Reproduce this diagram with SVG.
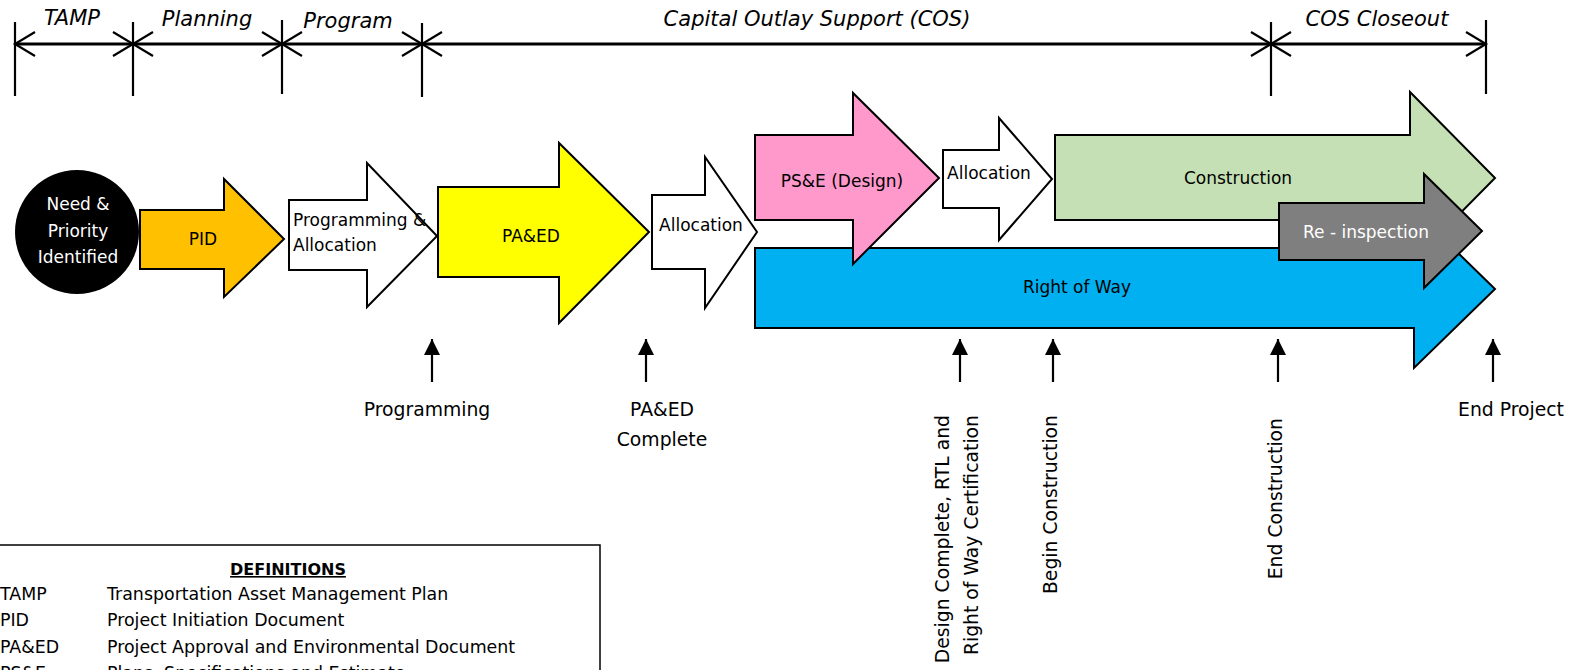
<svg xmlns="http://www.w3.org/2000/svg" width="1573" height="670" viewBox="0 0 1573 670">
<defs>
<style>
text{font-family:"DejaVu Sans","Liberation Sans",sans-serif;fill:#000;}
.lbl{font-size:17px;}
.big{font-size:18.8px;}
.ttl{font-size:21px;font-style:italic;}
.mid{text-anchor:middle;}
.arw{stroke:#000;stroke-width:2;stroke-linejoin:miter;}
.tick{stroke:#000;stroke-width:2.2;fill:none;}
.span{stroke:#000;stroke-width:3;fill:none;marker-start:url(#open);marker-end:url(#open);}
.ms{stroke:#000;stroke-width:2.2;fill:none;marker-end:url(#solid);}
.vt{font-size:18.8px;text-anchor:end;}
.def{font-size:17.4px;}
</style>
<marker id="open" viewBox="-22 -13 24 26" refX="0" refY="0" markerWidth="24" markerHeight="26" markerUnits="userSpaceOnUse" orient="auto-start-reverse" overflow="visible">
<path d="M-20,-12 L0,0 L-20,12" fill="none" stroke="#000" stroke-width="2.2"/>
</marker>
<marker id="solid" viewBox="-16 -8 16 16" refX="0" refY="0" markerWidth="16" markerHeight="16" markerUnits="userSpaceOnUse" orient="auto" overflow="visible">
<path d="M-16,-8 L0,0 L-16,8 Z" fill="#000"/>
</marker>
</defs>
<rect x="0" y="0" width="1573" height="670" fill="#fff"/>

<g id="timeline">
<line class="tick" x1="15" y1="22" x2="15" y2="96"/>
<line class="tick" x1="133" y1="22" x2="133" y2="96"/>
<line class="tick" x1="282" y1="20" x2="282" y2="94"/>
<line class="tick" x1="422" y1="23" x2="422" y2="97"/>
<line class="tick" x1="1271" y1="22" x2="1271" y2="96"/>
<line class="tick" x1="1486" y1="20" x2="1486" y2="94"/>
<path class="span" d="M15,44 L133,44"/>
<path class="span" d="M133,44 L282,44"/>
<path class="span" d="M282,44 L422,44"/>
<path class="span" d="M422,44 L1271,44"/>
<path class="span" d="M1271,44 L1486,44"/>
<text class="ttl mid" x="72" y="25">TAMP</text>
<text class="ttl mid" x="207" y="26">Planning</text>
<text class="ttl mid" x="348" y="28">Program</text>
<text class="ttl mid" x="817" y="26">Capital Outlay Support (COS)</text>
<text class="ttl mid" x="1377" y="26">COS Closeout</text>
</g>

<g id="need">
<circle cx="77" cy="232" r="62" fill="#000"/>
<text class="lbl mid" x="78" y="210" style="fill:#fff">Need &amp;</text>
<text class="lbl mid" x="78" y="237" style="fill:#fff">Priority</text>
<text class="lbl mid" x="78" y="263" style="fill:#fff">Identified</text>
</g>

<g id="pid">
<polygon class="arw" fill="#FFC000" points="140,210 224,210 224,179 284,239 224,297 224,269 140,269"/>
<text class="lbl mid" x="203" y="245">PID</text>
</g>

<g id="prog-alloc">
<polygon class="arw" fill="#fff" points="289,200 367,200 367,163 437,236 367,307 367,270 289,270"/>
<text class="lbl" x="293" y="226">Programming &amp;</text>
<text class="lbl" x="293" y="251">Allocation</text>
</g>

<g id="paed">
<polygon class="arw" fill="#FFFF00" points="438,187 559,187 559,143 649,232 559,323 559,277 438,277"/>
<text class="lbl mid" x="531" y="242">PA&amp;ED</text>
</g>

<g id="alloc1">
<polygon class="arw" fill="#fff" points="652,195 705,195 705,157 757,232 705,308 705,269 652,269"/>
<text class="lbl mid" x="701" y="231">Allocation</text>
</g>

<g id="construction">
<polygon class="arw" fill="#C5E0B4" points="1055,135 1410,135 1410,92 1495,178 1410,264 1410,220 1055,220"/>
<text class="lbl mid" x="1238" y="184">Construction</text>
</g>

<g id="row">
<polygon class="arw" fill="#00B0F0" points="755,248 1414,248 1414,210 1495,289 1414,368 1414,328 755,328"/>
<text class="lbl mid" x="1077" y="293">Right of Way</text>
</g>

<g id="pse">
<polygon class="arw" fill="#FF99CC" points="755,135 853,135 853,93 939,178 853,264 853,220 755,220"/>
<text class="lbl mid" x="842" y="187">PS&amp;E (Design)</text>
</g>

<g id="alloc2">
<polygon class="arw" fill="#fff" points="943,150 999,150 999,118 1052,179 999,240 999,208 943,208"/>
<text class="lbl mid" x="989" y="179">Allocation</text>
</g>

<g id="reinspection">
<polygon class="arw" fill="#7F7F7F" points="1279,203 1424,203 1424,174 1482,231 1424,288 1424,260 1279,260"/>
<text class="lbl mid" x="1366" y="238" style="fill:#fff">Re - inspection</text>
</g>

<g id="milestones">
<line class="ms" x1="432" y1="382" x2="432" y2="339"/>
<line class="ms" x1="646" y1="382" x2="646" y2="339"/>
<line class="ms" x1="960" y1="382" x2="960" y2="339"/>
<line class="ms" x1="1053" y1="382" x2="1053" y2="339"/>
<line class="ms" x1="1278" y1="382" x2="1278" y2="339"/>
<line class="ms" x1="1493" y1="382" x2="1493" y2="339"/>
</g>

<g id="milestone-labels">
<text class="big mid" x="427" y="416">Programming</text>
<text class="big mid" x="662" y="416">PA&amp;ED</text>
<text class="big mid" x="662" y="446">Complete</text>
<text class="big mid" x="1511" y="416">End Project</text>
<text class="vt" transform="translate(949,415) rotate(-90)">Design Complete, RTL and</text>
<text class="vt" transform="translate(978,415) rotate(-90)">Right of Way Certification</text>
<text class="vt" transform="translate(1057,415) rotate(-90)">Begin Construction</text>
<text class="vt" transform="translate(1282,418) rotate(-90)">End Construction</text>
</g>

<g id="definitions">
<rect x="-10" y="545" width="610" height="140" fill="#fff" stroke="#000" stroke-width="1.5"/>
<text class="def mid" x="288" y="575" style="font-weight:bold;text-decoration:underline;font-size:16px">DEFINITIONS</text>
<text class="def" x="0" y="600">TAMP</text>
<text class="def" x="107" y="600">Transportation Asset Management Plan</text>
<text class="def" x="0" y="626">PID</text>
<text class="def" x="107" y="626">Project Initiation Document</text>
<text class="def" x="0" y="653">PA&amp;ED</text>
<text class="def" x="107" y="653">Project Approval and Environmental Document</text>
<text class="def" x="0" y="679">PS&amp;E</text>
<text class="def" x="107" y="679">Plans, Specifications and Estimate</text>
</g>
</svg>
